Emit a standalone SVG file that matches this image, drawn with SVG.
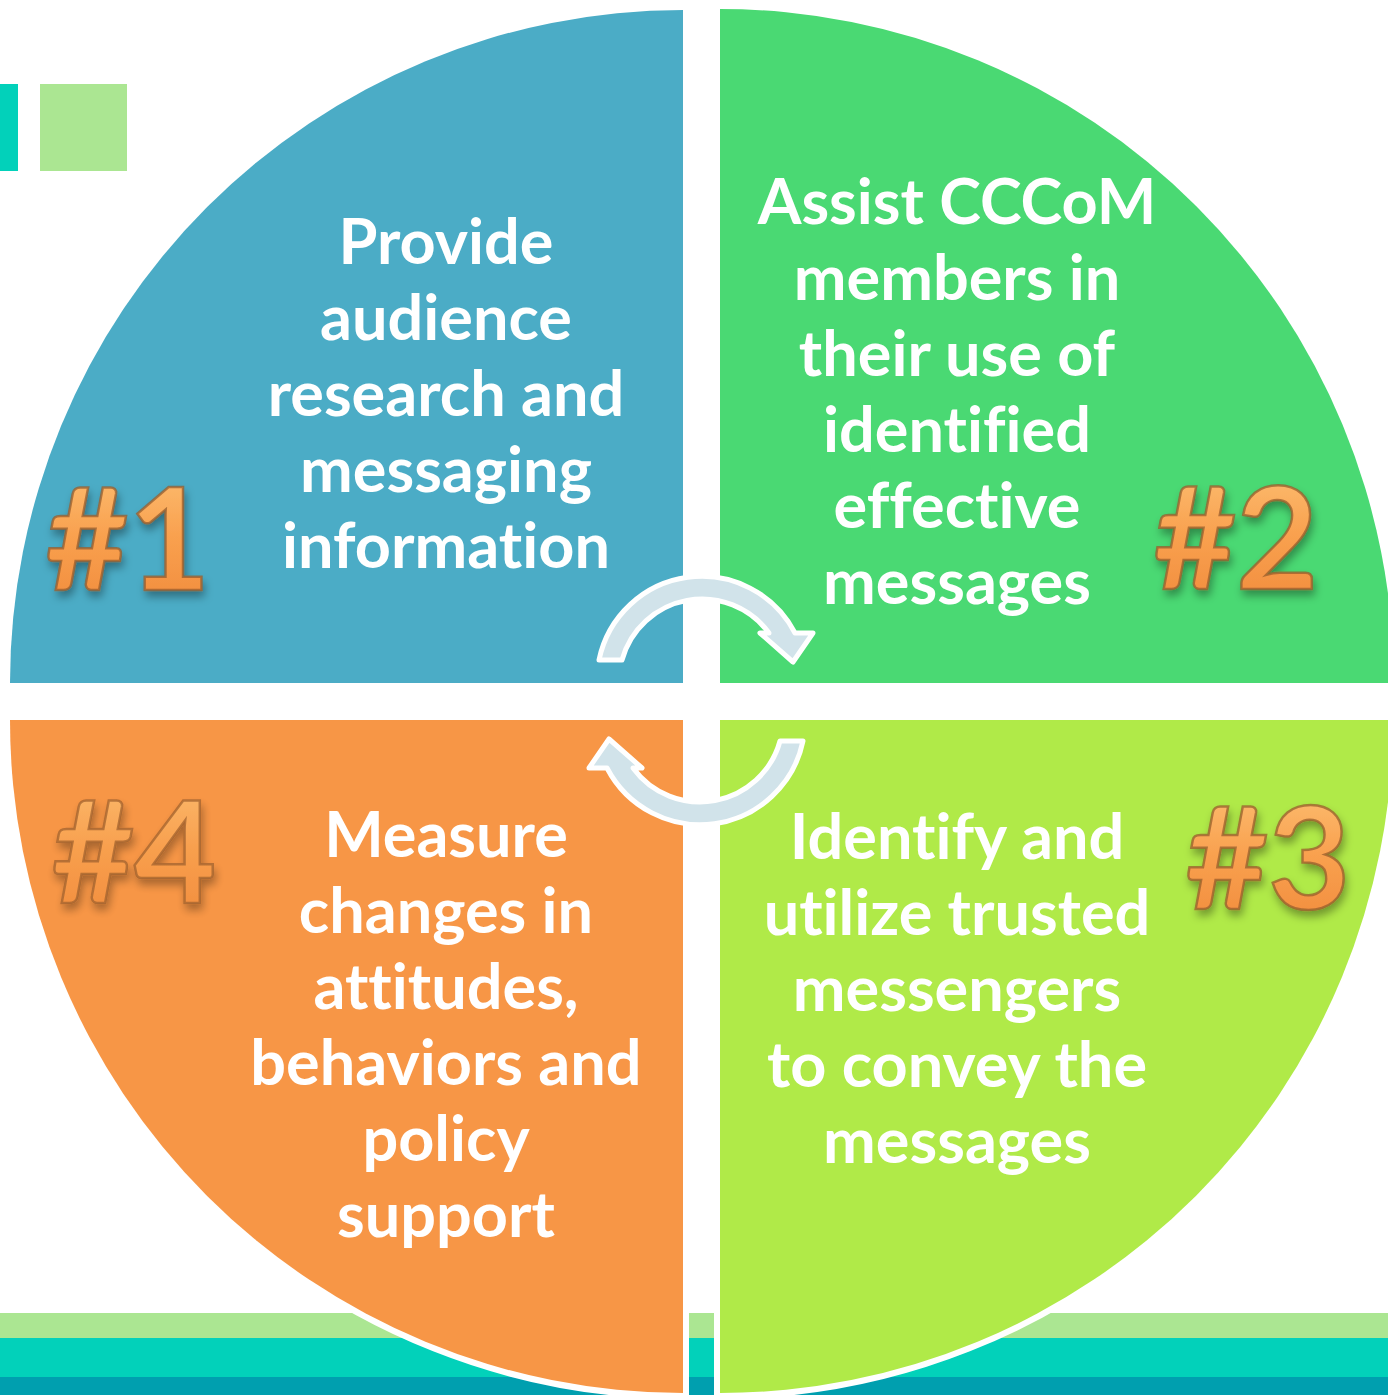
<svg xmlns="http://www.w3.org/2000/svg" width="1388" height="1395" viewBox="0 0 1388 1395">
<style>
.q{stroke:#fff;stroke-width:12;paint-order:stroke;stroke-linejoin:miter}
.t{font-family:Lato,"Open Sans","Liberation Sans",sans-serif;font-weight:700;font-size:63px;fill:#fff;text-anchor:middle;font-variant-ligatures:none;font-feature-settings:"liga" 0,"dlig" 0}
.n{font-family:Lato,"Open Sans","Liberation Sans",sans-serif;font-weight:700;font-size:142px;fill:url(#og);stroke:#9a5e2c;stroke-width:2.5;stroke-opacity:0.75;filter:url(#sh)}
.ar{fill:#d1e3ea;stroke:#fff;stroke-width:5;stroke-linejoin:round}
</style>
<defs>
<linearGradient id="og" x1="0" y1="0" x2="0" y2="1">
<stop offset="0" stop-color="#fdc57a"/>
<stop offset="0.5" stop-color="#f9a14f"/>
<stop offset="1" stop-color="#f0893a"/>
</linearGradient>
<filter id="sh" x="-20%" y="-20%" width="140%" height="150%">
<feDropShadow dx="2" dy="6" stdDeviation="4" flood-color="#000" flood-opacity="0.35"/>
</filter>
</defs>
<g id="background">
<rect x="0" y="1313" width="1388" height="25" fill="#abe692"/>
<rect x="0" y="1338" width="1388" height="39" fill="#02d1ba"/>
<rect x="0" y="1377" width="1388" height="18" fill="#009faf"/>
<rect x="0" y="84" width="18" height="87" fill="#02d1ba"/>
<rect x="40" y="84" width="87" height="87" fill="#abe692"/>
</g>
<g id="node1">
<path class="q" fill="#4bacc6" d="M683,683 L10,683 A673,673 0 0 1 683,10 Z"/>
<text class="t" x="446" y="264">Provide</text>
<text class="t" x="446" y="340">audience</text>
<text class="t" x="446" y="416">research and</text>
<text class="t" x="446" y="492">messaging</text>
<text class="t" x="446" y="568">information</text>
<text class="n" x="128" y="590" text-anchor="middle">#1</text>
</g>
<g id="node2">
<path class="q" fill="#4ad973" d="M720,683 L720,9 A674,674 0 0 1 1394,683 Z"/>
<text class="t" x="957" y="224">Assist CCCoM</text>
<text class="t" x="957" y="300">members in</text>
<text class="t" x="957" y="376">their use of</text>
<text class="t" x="957" y="452">identified</text>
<text class="t" x="957" y="528">effective</text>
<text class="t" x="957" y="604">messages</text>
<text class="n" x="1236" y="589" text-anchor="middle">#2</text>
</g>
<g id="node3">
<path class="q" fill="#b0ea48" d="M720,720 L1393,720 A673,673 0 0 1 720,1393 Z"/>
<text class="t" x="957" y="859">Identify and</text>
<text class="t" x="957" y="935">utilize trusted</text>
<text class="t" x="957" y="1011">messengers</text>
<text class="t" x="957" y="1087">to convey the</text>
<text class="t" x="957" y="1163">messages</text>
<text class="n" x="1268" y="909" text-anchor="middle">#3</text>
</g>
<g id="node4">
<path class="q" fill="#f79646" d="M683,720 L683,1393 A673,673 0 0 1 10,720 Z"/>
<text class="t" x="446" y="857">Measure</text>
<text class="t" x="446" y="933">changes in</text>
<text class="t" x="446" y="1009">attitudes,</text>
<text class="t" x="446" y="1085">behaviors and</text>
<text class="t" x="446" y="1161">policy</text>
<text class="t" x="446" y="1237">support</text>
<text class="n" x="134" y="903" text-anchor="middle" opacity="0.9">#4</text>
</g>
<g id="connectors">
<path class="ar" d="M599,660 A105,105 0 0 1 795,633 L813,633 L793,662 L760,633 L769,633 A83,83 0 0 0 622,660 Z"/>
<path class="ar" transform="rotate(180 701 700.5)" d="M599,660 A105,105 0 0 1 795,633 L813,633 L793,662 L760,633 L769,633 A83,83 0 0 0 622,660 Z"/>
</g>
</svg>
